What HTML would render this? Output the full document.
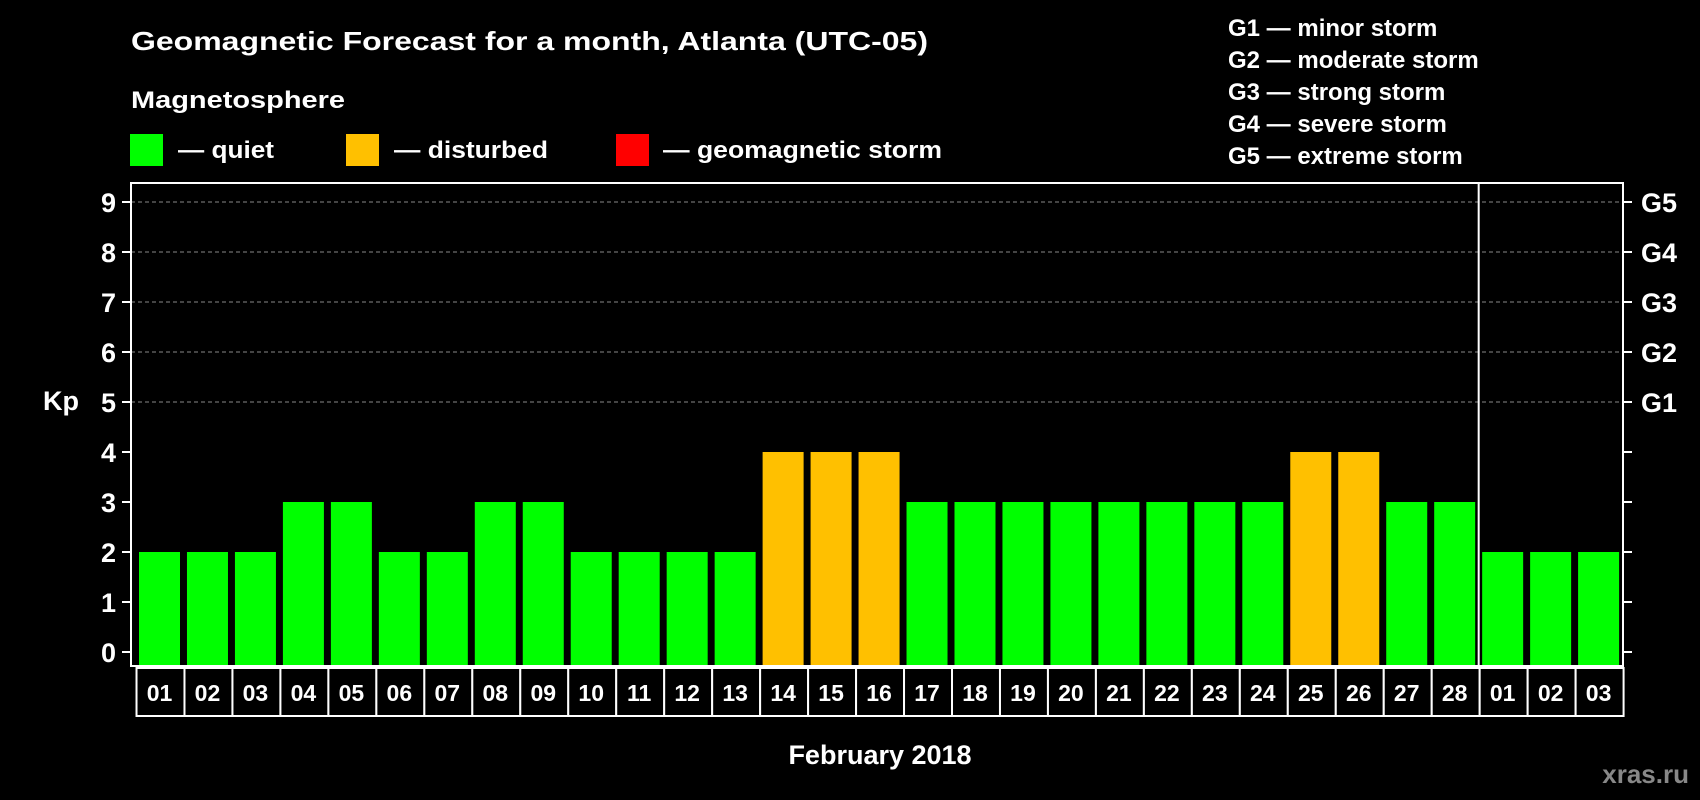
<!DOCTYPE html>
<html><head><meta charset="utf-8"><style>
html,body{margin:0;padding:0;background:#000;}
svg{display:block;font-family:"Liberation Sans",Arial,sans-serif;font-weight:bold;}
</style></head><body>
<svg id="chart" width="1700" height="800" viewBox="0 0 1700 800" xmlns="http://www.w3.org/2000/svg">
<rect x="0" y="0" width="1700" height="800" fill="#000"/>
<text x="131" y="50" font-size="26" fill="#fff" textLength="797" lengthAdjust="spacingAndGlyphs">Geomagnetic Forecast for a month, Atlanta (UTC-05)</text>
<text x="131" y="108" font-size="24" fill="#fff" textLength="214" lengthAdjust="spacingAndGlyphs">Magnetosphere</text>
<g>
<rect x="130" y="134" width="33" height="32" fill="#00ff00"/>
<text x="178" y="158" font-size="24" fill="#fff" textLength="96" lengthAdjust="spacingAndGlyphs">— quiet</text>
</g>
<g>
<rect x="346" y="134" width="33" height="32" fill="#ffc000"/>
<text x="394" y="158" font-size="24" fill="#fff" textLength="154" lengthAdjust="spacingAndGlyphs">— disturbed</text>
</g>
<g>
<rect x="616" y="134" width="33" height="32" fill="#ff0000"/>
<text x="663" y="158" font-size="24" fill="#fff" textLength="279" lengthAdjust="spacingAndGlyphs">— geomagnetic storm</text>
</g>
<g font-size="24" fill="#fff">
<text x="1228" y="36">G1 — minor storm</text>
<text x="1228" y="68">G2 — moderate storm</text>
<text x="1228" y="100">G3 — strong storm</text>
<text x="1228" y="132">G4 — severe storm</text>
<text x="1228" y="164">G5 — extreme storm</text>
</g>
<text x="43" y="410" font-size="27" fill="#fff">Kp</text>
<text x="880" y="764" font-size="27" fill="#fff" text-anchor="middle">February 2018</text>
<text x="1689" y="783" font-size="26" fill="#888" text-anchor="end">xras.ru</text>
<g id="grid"></g><g id="bars"></g><g id="axes"></g><g id="dates"></g>
</svg>
<script>
const days = ["01","02","03","04","05","06","07","08","09","10","11","12","13","14","15","16","17","18","19","20","21","22","23","24","25","26","27","28","01","02","03"];
const kpValues = [2,2,2,3,3,2,2,3,3,2,2,2,2,4,4,4,3,3,3,3,3,3,3,3,4,4,3,3,2,2,2];
const yTicks = [0,1,2,3,4,5,6,7,8,9];
const gLabels = ["G1","G2","G3","G4","G5"];
const gLevels = [5,6,7,8,9];
const monthBoundaryIndex = 28;

const NS = "http://www.w3.org/2000/svg";
const plotL = 131, plotR = 1623, plotT = 183, plotB = 666;
const y0 = 652, unit = 50;
const firstX = 139, pitch = 47.97, barW = 41;
function yScale(v){ return y0 - v*unit; }
function xScale(i){ return firstX + i*pitch; }
function mk(tag, attrs, parent){ const e=document.createElementNS(NS,tag); for(const k in attrs) e.setAttribute(k,attrs[k]); parent.appendChild(e); return e; }
function color(v){ return v>=5 ? "#ff0000" : (v>=4 ? "#ffc000" : "#00ff00"); }

const grid = document.getElementById("grid");
gLevels.forEach((lv)=>{
  const l = mk("line",{x1:plotL,x2:plotR,y1:yScale(lv),y2:yScale(lv),stroke:"#888","stroke-width":1,"stroke-dasharray":"4,3"},grid);
  
  
});

const bars = document.getElementById("bars");
kpValues.forEach((v,i)=>{
  const r = mk("rect",{x:xScale(i),y:yScale(v),width:barW,height:plotB-yScale(v),fill:color(v)},bars);
  
  
});

const axes = document.getElementById("axes");
const frame = mk("rect",{x:plotL,y:plotT,width:plotR-plotL,height:plotB-plotT,fill:"none",stroke:"#fff","stroke-width":2},axes);


const sepX = xScale(monthBoundaryIndex) - (pitch-barW)/2;
const sep = mk("line",{x1:sepX,x2:sepX,y1:plotT,y2:plotB,stroke:"#fff","stroke-width":2},axes);


yTicks.forEach((t)=>{
  const y = yScale(t);
  const tl = mk("line",{x1:plotL-9,x2:plotL,y1:y,y2:y,stroke:"#fff","stroke-width":2},axes);
  
  
  const tr = mk("line",{x1:plotR,x2:plotR+9,y1:y,y2:y,stroke:"#fff","stroke-width":2},axes);
  
  
  const tx = mk("text",{x:116,y:y+10,"font-size":27,fill:"#fff","text-anchor":"end"},axes);
  tx.textContent = t;
  
  
});
gLabels.forEach((g,i)=>{
  const tx = mk("text",{x:1641,y:yScale(gLevels[i])+10,"font-size":27,fill:"#fff"},axes);
  tx.textContent = g;
  
  
});

const dates = document.getElementById("dates");
days.forEach((d,i)=>{
  const cx = xScale(i) + barW/2;
  const c = mk("rect",{x:cx-pitch/2+1,y:plotB+2,width:pitch,height:48,fill:"#000",stroke:"#fff","stroke-width":2},dates);
  
  
  const t = mk("text",{x:cx,y:plotB+35,"font-size":23,fill:"#fff","text-anchor":"middle"},dates);
  t.textContent = d;
  
  
});
</script>
</body></html>
